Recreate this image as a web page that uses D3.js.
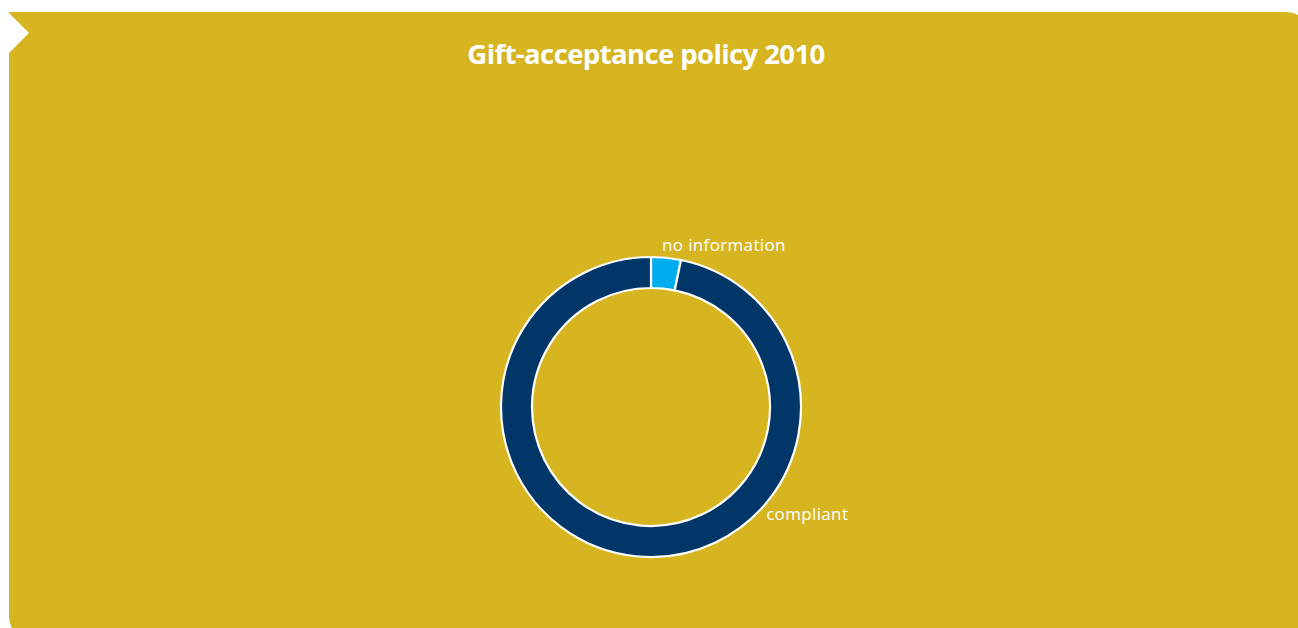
<!DOCTYPE html>
<html>
<head>
<meta charset="utf-8">
<script src="https://cdn.jsdelivr.net/npm/d3@7"></script>
<style>
  html, body { margin: 0; padding: 0; background: #ffffff; }
  svg { display: block; }
</style>
</head>
<body>
<svg id="chart" width="1298" height="628"></svg>
<script>
// Share of organisations by gift-acceptance policy status, 2010
const categories = ["no information", "compliant"];
const shares = [3.2, 96.8];
const sliceColors = ["#00aeef", "#003768"];
const titleText = "Gift-acceptance policy 2010";

const W = 1298, H = 628;
const svg = d3.select("#chart");

// Yellow panel with rounded top-right / bottom-left corners and a white notch
const px0 = 9, py0 = 12, px1 = 1312, py1 = 642, rc = 26;
const panel = d3.path();
panel.moveTo(px0, py0);
panel.lineTo(px1 - rc, py0);
panel.arcTo(px1, py0, px1, py0 + rc, rc);
panel.lineTo(px1, py1);
panel.lineTo(px0 + rc, py1);
panel.arcTo(px0, py1, px0, py1 - rc, rc);
panel.closePath();
svg.append("path").attr("d", panel.toString()).attr("fill", "#d6b521");

svg.append("path")
  .attr("d", "M9,13 L29,33 L9,53 Z")
  .attr("fill", "#ffffff");

// Title
svg.append("text")
  .attr("x", 646)
  .attr("y", 64)
  .attr("text-anchor", "middle")
  .attr("fill", "#ffffff")
  .style("font-family", "'Open Sans', sans-serif")
  .style("font-weight", "700")
  .style("font-size", "27.5px")
  .style("letter-spacing", "-0.6px")
  .text(titleText);

// Donut
const cx = 651, cy = 407;
const outerR = 150, innerR = 119;
const data = categories.map((c, i) => ({ name: c, value: shares[i], color: sliceColors[i] }));

const pie = d3.pie().value(d => d.value).sort(null);
const arc = d3.arc().innerRadius(innerR).outerRadius(outerR);
const arcs = pie(data);

const g = svg.append("g").attr("transform", `translate(${cx},${cy})`);
g.selectAll("path.slice")
  .data(arcs)
  .join("path")
  .attr("class", "slice")
  .attr("d", arc)
  .attr("fill", d => d.data.color)
  .attr("stroke", "#ffffff")
  .attr("stroke-width", 2.2)
  .attr("stroke-linejoin", "miter");

// Slice labels, placed just outside the ring
const labelR = 160;
const labelAngle = d => d.index === 0 ? (d.startAngle + d.endAngle) / 2 : Math.PI * 0.75;
g.selectAll("text.lbl")
  .data(arcs)
  .join("text")
  .attr("class", "lbl")
  .attr("x", d => labelR * Math.sin(labelAngle(d)) + (d.index === 0 ? -5 : 2))
  .attr("y", d => -labelR * Math.cos(labelAngle(d)) + (d.index === 0 ? 3 : 0))
  .attr("text-anchor", "start")
  .attr("fill", "#ffffff")
  .style("font-family", "'Open Sans', sans-serif")
  .style("font-size", "17px")
  .style("letter-spacing", "0.35px")
  .text(d => d.data.name);
</script>
</body>
</html>
